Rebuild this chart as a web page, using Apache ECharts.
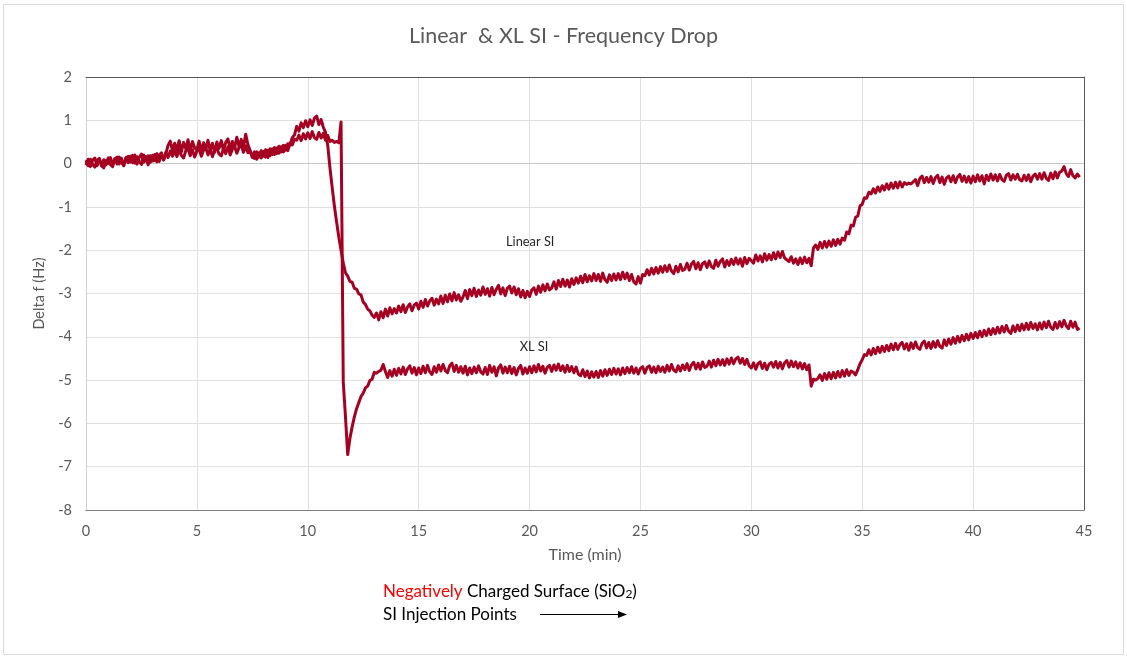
<!DOCTYPE html>
<html>
<head>
<meta charset="utf-8">
<script src="https://cdn.jsdelivr.net/npm/echarts@6/dist/echarts.min.js"></script>
<style>
  html, body { margin: 0; padding: 0; background: #ffffff; }
  #chart { width: 1127px; height: 656px; }
</style>
</head>
<body>
<div id="chart"></div>
<script>
// Frequency shift recorded every 0.1 min, starting at t = 0
const SAMPLE_MIN = 0.1;

// Linear SI, one row per minute
const linearSI = [
  0.08, -0.05, 0.10, -0.02, -0.08, 0.07, 0.12, -0.06, 0.09, -0.03,
  0.13, -0.02, -0.07, 0.11, 0.15, -0.01, 0.12, -0.05, 0.14, 0.02,
  0.17, 0.02, 0.20, -0.01, 0.14, 0.22, 0.03, 0.16, -0.03, 0.18,
  0.06, 0.21, 0.04, 0.19, 0.25, 0.08, 0.23, 0.42, 0.52, 0.30,
  0.47, 0.31, 0.53, 0.27, 0.49, 0.34, 0.55, 0.29, 0.51, 0.36,
  0.32, 0.52, 0.28, 0.48, 0.33, 0.54, 0.30, 0.47, 0.26, 0.50,
  0.35, 0.53, 0.30, 0.49, 0.57, 0.33, 0.51, 0.36, 0.61, 0.39,
  0.56, 0.37, 0.68, 0.44, 0.30, 0.18, 0.12, 0.27, 0.15, 0.30,
  0.17, 0.32, 0.14, 0.34, 0.21, 0.37, 0.23, 0.40, 0.27, 0.42,
  0.31, 0.46, 0.44, 0.60, 0.66, 0.86, 0.75, 0.94, 0.83, 0.99,
  0.85, 1.01, 0.88, 1.05, 1.10, 0.90, 1.02, 0.84, 0.72, 0.42,
  -0.10, -0.55, -0.98, -1.35, -1.70, -2.00, -2.30, -2.52, -2.60, -2.72,
  -2.74, -2.88, -2.90, -3.01, -3.03, -3.20, -3.25, -3.36, -3.40, -3.50,
  -3.55, -3.45, -3.61, -3.42, -3.56, -3.36, -3.52, -3.33, -3.47, -3.35,
  -3.45, -3.29, -3.42, -3.26, -3.44, -3.31, -3.24, -3.40, -3.27, -3.22,
  -3.36, -3.18, -3.32, -3.14, -3.29, -3.17, -3.11, -3.27, -3.13, -3.24,
  -3.06, -3.23, -3.04, -3.19, -3.01, -3.17, -2.98, -3.15, -3.03, -3.18,
  -3.08, -2.93, -3.12, -2.91, -3.05, -2.88, -3.07, -2.92, -3.04, -2.85,
  -3.02, -2.89, -3.06, -2.86, -3.03, -2.90, -2.81, -3.01, -2.87, -3.05,
  -2.88, -2.83, -2.99, -2.85, -3.03, -2.89, -3.08, -2.93, -3.10, -2.95,
  -3.07, -2.92, -2.87, -3.02, -2.83, -2.97, -2.80, -2.94, -2.78, -2.92,
  -2.87, -2.73, -2.90, -2.70, -2.84, -2.67, -2.83, -2.69, -2.85, -2.66,
  -2.79, -2.64, -2.76, -2.60, -2.75, -2.56, -2.73, -2.59, -2.71, -2.54,
  -2.70, -2.56, -2.72, -2.53, -2.68, -2.74, -2.57, -2.70, -2.55, -2.69,
  -2.54, -2.68, -2.51, -2.66, -2.53, -2.70, -2.56, -2.73, -2.78, -2.61,
  -2.76, -2.56, -2.59, -2.45, -2.57, -2.42, -2.55, -2.40, -2.53, -2.38,
  -2.51, -2.36, -2.49, -2.34, -2.48, -2.54, -2.37, -2.50, -2.33, -2.47,
  -2.44, -2.30, -2.46, -2.32, -2.26, -2.43, -2.29, -2.45, -2.31, -2.27,
  -2.40, -2.25, -2.38, -2.42, -2.23, -2.37, -2.26, -2.20, -2.39, -2.24,
  -2.35, -2.21, -2.33, -2.18, -2.32, -2.20, -2.37, -2.17, -2.31, -2.19,
  -2.24, -2.30, -2.11, -2.25, -2.13, -2.27, -2.08, -2.23, -2.10, -2.22,
  -2.06, -2.20, -2.04, -2.17, -2.03, -2.18, -2.22, -2.26, -2.15, -2.30,
  -2.20, -2.33, -2.18, -2.31, -2.16, -2.29, -2.19, -2.36, -1.95, -1.88,
  -1.98, -1.82, -1.95, -1.80, -1.93, -1.79, -1.91, -1.76, -1.89, -1.75,
  -1.86, -1.72, -1.77, -1.58, -1.62, -1.42, -1.44, -1.24, -1.21, -0.98,
  -0.94, -0.79, -0.80, -0.66, -0.70, -0.58, -0.68, -0.54, -0.64, -0.51,
  -0.61, -0.47, -0.59, -0.45, -0.57, -0.43, -0.56, -0.42, -0.54, -0.44,
  -0.48, -0.45, -0.47, -0.42, -0.37, -0.51, -0.34, -0.29, -0.44, -0.32,
  -0.43, -0.30, -0.46, -0.32, -0.27, -0.44, -0.31, -0.48, -0.33, -0.29,
  -0.42, -0.28, -0.44, -0.31, -0.25, -0.41, -0.29, -0.43, -0.30, -0.45,
  -0.29, -0.42, -0.26, -0.40, -0.28, -0.47, -0.27, -0.39, -0.24, -0.38,
  -0.26, -0.40, -0.25, -0.37, -0.41, -0.27, -0.23, -0.38, -0.26, -0.36,
  -0.25, -0.37, -0.40, -0.27, -0.39, -0.26, -0.42, -0.29, -0.24, -0.36,
  -0.23, -0.36, -0.21, -0.34, -0.39, -0.22, -0.35, -0.19, -0.33, -0.20,
  -0.17, -0.07, -0.23, -0.30, -0.14, -0.28, -0.33, -0.24, -0.31
];

// XL SI, one row per minute
const xlSI = [
  -0.04, 0.10, -0.07, 0.08, 0.13, -0.05, 0.09, -0.02, -0.10, 0.07,
  0.00, 0.14, -0.03, 0.11, -0.01, 0.15, 0.02, -0.04, 0.12, 0.17,
  0.04, 0.19, 0.01, 0.16, 0.05, -0.02, 0.20, 0.06, 0.18, 0.03,
  0.19, 0.07, 0.23, 0.05, 0.20, 0.09, 0.26, 0.14, 0.29, 0.17,
  0.31, 0.16, 0.33, 0.19, 0.13, 0.30, 0.35, 0.18, 0.32, 0.15,
  0.29, 0.34, 0.17, 0.31, 0.37, 0.20, 0.33, 0.16, 0.32, 0.36,
  0.22, 0.18, 0.35, 0.23, 0.39, 0.20, 0.33, 0.40, 0.24, 0.37,
  0.44, 0.26, 0.41, 0.25, 0.29, 0.14, 0.27, 0.10, 0.25, 0.13,
  0.28, 0.15, 0.31, 0.18, 0.34, 0.21, 0.36, 0.24, 0.39, 0.27,
  0.42, 0.30, 0.46, 0.43, 0.56, 0.54, 0.66, 0.53, 0.69, 0.57,
  0.71, 0.58, 0.74, 0.60, 0.56, 0.72, 0.59, 0.70, 0.54, 0.65,
  0.51, 0.54, 0.49, 0.51, 0.48, 0.96, -5.05, -5.85, -6.72, -6.35,
  -6.08, -5.85, -5.66, -5.52, -5.38, -5.30, -5.18, -5.14, -5.01, -4.98,
  -4.82, -4.84, -4.80, -4.77, -4.64, -4.80, -4.94, -4.78, -4.91, -4.75,
  -4.89, -4.73, -4.86, -4.70, -4.87, -4.74, -4.67, -4.84, -4.71, -4.88,
  -4.72, -4.85, -4.68, -4.83, -4.66, -4.81, -4.87, -4.69, -4.82, -4.65,
  -4.79, -4.64, -4.78, -4.83, -4.67, -4.61, -4.80, -4.66, -4.82, -4.69,
  -4.84, -4.68, -4.88, -4.72, -4.85, -4.70, -4.83, -4.67, -4.81, -4.86,
  -4.71, -4.87, -4.66, -4.82, -4.69, -4.90, -4.72, -4.65, -4.84, -4.70,
  -4.83, -4.68, -4.85, -4.71, -4.88, -4.73, -4.66, -4.86, -4.72, -4.84,
  -4.69, -4.83, -4.67, -4.81, -4.64, -4.79, -4.68, -4.84, -4.70, -4.66,
  -4.80, -4.65, -4.77, -4.63, -4.78, -4.67, -4.82, -4.66, -4.80, -4.69,
  -4.83, -4.70, -4.86, -4.90, -4.76, -4.92, -4.79, -4.95, -4.81, -4.93,
  -4.80, -4.94, -4.78, -4.91, -4.76, -4.89, -4.75, -4.87, -4.73, -4.86,
  -4.74, -4.88, -4.72, -4.85, -4.71, -4.83, -4.69, -4.84, -4.72, -4.86,
  -4.73, -4.69, -4.84, -4.71, -4.67, -4.82, -4.70, -4.83, -4.68, -4.80,
  -4.70, -4.82, -4.66, -4.79, -4.64, -4.77, -4.81, -4.67, -4.79, -4.65,
  -4.76, -4.62, -4.78, -4.65, -4.59, -4.74, -4.61, -4.75, -4.58, -4.71,
  -4.68, -4.56, -4.70, -4.54, -4.67, -4.52, -4.65, -4.53, -4.66, -4.51,
  -4.63, -4.49, -4.62, -4.51, -4.47, -4.61, -4.50, -4.64, -4.52, -4.67,
  -4.72, -4.60, -4.75, -4.62, -4.58, -4.73, -4.61, -4.76, -4.63, -4.59,
  -4.70, -4.57, -4.72, -4.59, -4.74, -4.60, -4.55, -4.70, -4.56, -4.69,
  -4.58, -4.72, -4.60, -4.74, -4.62, -4.76, -4.65, -5.14, -4.98, -5.00,
  -4.96, -4.88, -5.01, -4.85, -4.98, -4.83, -4.97, -4.82, -4.95, -4.80,
  -4.93, -4.78, -4.91, -4.76, -4.89, -4.79, -4.82, -4.88, -4.76, -4.62,
  -4.53, -4.41, -4.43, -4.30, -4.42, -4.27, -4.39, -4.24, -4.36, -4.22,
  -4.34, -4.20, -4.32, -4.17, -4.30, -4.15, -4.29, -4.18, -4.13, -4.28,
  -4.16, -4.31, -4.14, -4.27, -4.12, -4.25, -4.29, -4.15, -4.10, -4.26,
  -4.13, -4.27, -4.11, -4.24, -4.09, -4.22, -4.26, -4.07, -4.20, -4.05,
  -4.17, -4.02, -4.15, -3.99, -4.12, -3.97, -4.09, -3.94, -4.07, -3.92,
  -4.04, -3.90, -4.02, -3.87, -4.00, -3.85, -3.97, -3.82, -3.95, -3.81,
  -3.93, -3.78, -3.91, -3.76, -3.89, -3.74, -3.87, -3.92, -3.75, -3.88,
  -3.73, -3.86, -3.71, -3.84, -3.69, -3.83, -3.67, -3.81, -3.70, -3.84,
  -3.68, -3.82, -3.66, -3.79, -3.64, -3.78, -3.83, -3.67, -3.80, -3.65,
  -3.77, -3.62, -3.75, -3.81, -3.64, -3.78, -3.66, -3.83, -3.80
];

// Axis ranges
const timeTicks = [0, 5, 10, 15, 20, 25, 30, 35, 40, 45];
const deltaTicks = [-8, -7, -6, -5, -4, -3, -2, -1, 0, 1, 2];

const LINE_COLOR = '#a50021';
const FONT = 'Lato, "Open Sans", sans-serif';

function toPairs(values) {
  return values.map((v, i) => [+(i * SAMPLE_MIN).toFixed(1), v]);
}

const chart = echarts.init(document.getElementById('chart'), null, { renderer: 'canvas' });

const option = {
  animation: false,
  backgroundColor: '#ffffff',
  textStyle: { fontFamily: FONT },
  title: {
    text: 'Linear  & XL SI - Frequency Drop',
    left: 'center',
    top: 20,
    textStyle: { fontFamily: FONT, fontSize: 21.5, fontWeight: 'normal', color: '#595959' }
  },
  grid: { left: 86, right: 43, top: 77, bottom: 146, containLabel: false },
  xAxis: [
    {
      type: 'value',
      min: timeTicks[0],
      max: timeTicks[timeTicks.length - 1],
      interval: 5,
      name: 'Time (min)',
      nameLocation: 'middle',
      nameGap: 37,
      nameTextStyle: { fontFamily: FONT, fontSize: 16, color: '#595959' },
      axisLine: { show: true, onZero: false, lineStyle: { color: '#7f7f7f', width: 1 } },
      axisTick: { show: false },
      axisLabel: { margin: 14, fontFamily: FONT, fontSize: 14.5, color: '#595959' },
      splitLine: { show: true, lineStyle: { color: '#e0e0e0', width: 1 } }
    },
    {
      type: 'value',
      position: 'top',
      min: timeTicks[0],
      max: timeTicks[timeTicks.length - 1],
      interval: 5,
      axisLine: { show: true, onZero: false, lineStyle: { color: '#595959', width: 1 } },
      axisTick: { show: false },
      axisLabel: { show: false },
      splitLine: { show: false }
    }
  ],
  yAxis: [
    {
      type: 'value',
      min: deltaTicks[0],
      max: deltaTicks[deltaTicks.length - 1],
      interval: 1,
      name: 'Delta f (Hz)',
      nameLocation: 'middle',
      nameGap: 33,
      nameRotate: 90,
      nameTextStyle: { fontFamily: FONT, fontSize: 14.5, color: '#595959' },
      axisLine: { show: true, onZero: false, lineStyle: { color: '#d0d0d0', width: 1 } },
      axisTick: { show: false },
      axisLabel: { margin: 14, fontFamily: FONT, fontSize: 14.5, color: '#595959' },
      splitLine: { show: true, lineStyle: { color: '#e0e0e0', width: 1 } }
    },
    {
      type: 'value',
      position: 'right',
      min: deltaTicks[0],
      max: deltaTicks[deltaTicks.length - 1],
      interval: 1,
      axisLine: { show: true, onZero: false, lineStyle: { color: '#595959', width: 1 } },
      axisTick: { show: false },
      axisLabel: { show: false },
      splitLine: { show: false }
    }
  ],
  series: [
    {
      name: 'Linear SI',
      type: 'line',
      data: toPairs(linearSI),
      showSymbol: false,
      lineStyle: { color: LINE_COLOR, width: 3, join: 'round' },
      z: 3,
      markLine: {
        silent: true,
        symbol: 'none',
        label: { show: false },
        lineStyle: { color: '#c8c8c8', width: 1, type: 'solid' },
        data: [{ yAxis: 0 }],
        z: 1
      },
      markPoint: {
        symbolSize: 0,
        label: {
          show: true,
          formatter: 'Linear SI',
          fontFamily: FONT,
          fontSize: 12.8,
          color: '#262626'
        },
        data: [{ coord: [20.03, -1.81] }]
      }
    },
    {
      name: 'XL SI',
      type: 'line',
      data: toPairs(xlSI),
      showSymbol: false,
      lineStyle: { color: LINE_COLOR, width: 3, join: 'round' },
      z: 3,
      markPoint: {
        symbolSize: 0,
        label: {
          show: true,
          formatter: 'XL SI',
          fontFamily: FONT,
          fontSize: 12.8,
          color: '#262626'
        },
        data: [{ coord: [20.2, -4.24] }]
      }
    }
  ],
  graphic: [
    {
      type: 'rect',
      shape: { x: 3.5, y: 4.5, width: 1120, height: 650 },
      style: { fill: null, stroke: '#d9d9d9', lineWidth: 1 },
      silent: true,
      z: -10
    },
    {
      type: 'text',
      left: 383,
      top: 583,
      style: {
        text: '{neg|Negatively} {txt|Charged Surface (SiO}{sub|2}{txt|)}',
        rich: {
          neg: { fontFamily: FONT, fontSize: 17, fill: '#ff0000' },
          txt: { fontFamily: FONT, fontSize: 17, fill: '#000000' },
          sub: { fontFamily: FONT, fontSize: 12, fill: '#000000', verticalAlign: 'bottom', padding: [4, 0, 0, 0] }
        },
        font: '17px ' + FONT,
        fill: '#000000'
      }
    },
    {
      type: 'text',
      left: 383,
      top: 606,
      style: {
        text: 'SI Injection Points',
        font: '17px ' + FONT,
        fill: '#000000'
      }
    },
    {
      type: 'line',
      shape: { x1: 540, y1: 614.5, x2: 620, y2: 614.5 },
      style: { stroke: '#000000', lineWidth: 1 }
    },
    {
      type: 'polygon',
      shape: { points: [[627, 614.5], [618, 611], [618, 618]] },
      style: { fill: '#000000' }
    }
  ]
};

chart.setOption(option);
</script>
</body>
</html>
